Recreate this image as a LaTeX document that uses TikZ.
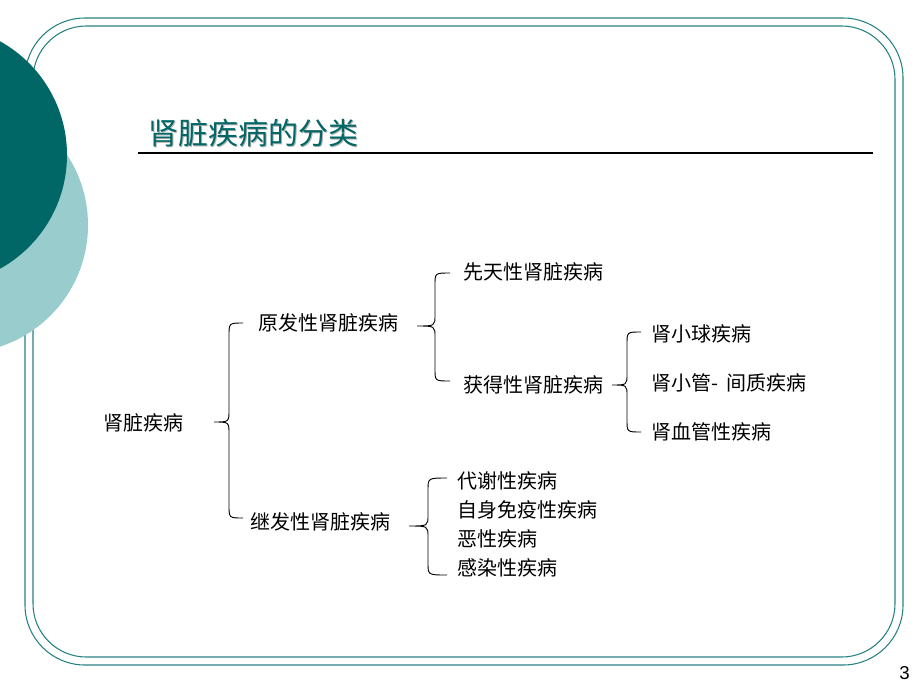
\documentclass[tikz,border=0pt]{standalone}
\usepackage{fontspec}
\newfontfamily\cjk{Noto Sans CJK SC}
\setmainfont{Liberation Sans}
\definecolor{dteal}{RGB}{0,102,102}
\definecolor{lteal}{RGB}{153,204,204}
\definecolor{fteal}{RGB}{40,130,130}
\begin{document}
\begin{tikzpicture}[x=0.75pt,y=-0.75pt,
  lbl/.style={anchor=west,inner sep=0pt,font=\cjk\fontsize{15}{16}\selectfont},
  br/.style={line width=0.7pt}]
\useasboundingbox (0,0) rectangle (920,690);
\fill[white] (0,0) rectangle (920,690);
\draw[fteal,line width=0.8pt,rounded corners=45] (25,18) rectangle (903,665);
\draw[fteal,line width=0.8pt,rounded corners=40] (33,26) rectangle (895,657);
\fill[lteal] (-40,225) circle (128);
\fill[dteal] (-63,155) circle (130);
\node[anchor=west,inner sep=0pt,text=gray!60,font=\cjk\fontsize{22.5}{24}\selectfont] at (149.5,134.5) {肾脏疾病的分类};
\node[anchor=west,inner sep=0pt,text=dteal,font=\cjk\fontsize{22.5}{24}\selectfont] (title) at (148,133) {肾脏疾病的分类};
\draw[line width=0.8pt] (138,153) -- (873,153);
\node[lbl] (root) at (103,423) {肾脏疾病};
\node[lbl] (p) at (258,323) {原发性肾脏疾病};
\node[lbl] (s) at (250,522) {继发性肾脏疾病};
\node[lbl] (c) at (463,272) {先天性肾脏疾病};
\node[lbl] (a) at (463,385) {获得性肾脏疾病};
\node[lbl] (g1) at (651,334) {肾小球疾病};
\node[lbl] (g2) at (651,383) {肾小管-\, 间质疾病};
\node[lbl] (g3) at (651,432) {肾血管性疾病};
\node[lbl] (s1) at (457,481) {代谢性疾病};
\node[lbl] (s2) at (457,510) {自身免疫性疾病};
\node[lbl] (s3) at (457,539) {恶性疾病};
\node[lbl] (s4) at (457,568) {感染性疾病};
% braces
\draw[br] (243,323) .. controls (229,323) .. (229,336) -- (229,410) .. controls (229,422) .. (214,422)
  .. controls (229,422) .. (229,434) -- (229,505) .. controls (229,518) .. (243,518);
\draw[br] (450,273) .. controls (435,273) .. (435,285) -- (435,315) .. controls (435,326) .. (417,326)
  .. controls (435,326) .. (435,337) -- (435,369) .. controls (435,381) .. (450,381);
\draw[br] (641,332) .. controls (627,332) .. (627,344) -- (627,374) .. controls (627,385) .. (612,385)
  .. controls (627,385) .. (627,396) -- (627,420) .. controls (627,432) .. (641,432);
\draw[br] (447,478) .. controls (428,478) .. (428,490) -- (428,515) .. controls (428,526) .. (409,526)
  .. controls (428,526) .. (428,537) -- (428,563) .. controls (428,575) .. (447,575);
\node[anchor=east,inner sep=0pt,font=\fontsize{14}{16}\selectfont] (pg) at (910,673) {3};
\end{tikzpicture}
\end{document}
